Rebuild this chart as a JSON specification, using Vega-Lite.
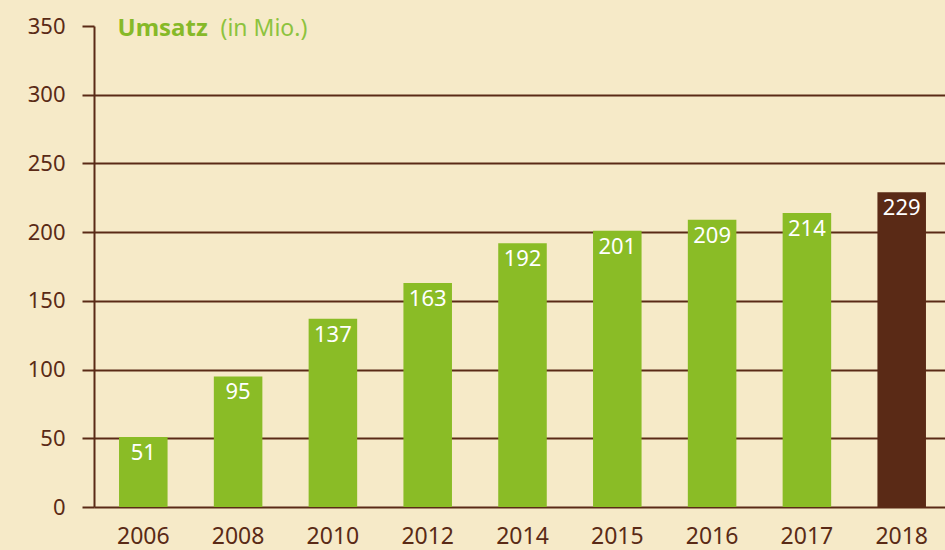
{
  "$schema": "https://vega.github.io/schema/vega-lite/v6.json",
  "autosize": "none",
  "width": 857,
  "height": 481,
  "padding": {"left": 94, "top": 26, "right": 0, "bottom": 43},
  "background": "#f6eac8",
  "config": {"view": {"stroke": null}, "font": "Noto Sans"},
  "data": {"values": [
    {"year": "2006", "umsatz": 51},
    {"year": "2008", "umsatz": 95},
    {"year": "2010", "umsatz": 137},
    {"year": "2012", "umsatz": 163},
    {"year": "2014", "umsatz": 192},
    {"year": "2015", "umsatz": 201},
    {"year": "2016", "umsatz": 209},
    {"year": "2017", "umsatz": 214},
    {"year": "2018", "umsatz": 229}
  ]},
  "encoding": {
    "x": {"field": "year", "type": "nominal", "sort": null,
      "scale": {"paddingInner": 0.488, "paddingOuter": 0.264},
      "axis": {"title": null, "labelAngle": 0, "ticks": false, "domainColor": "#5a2a16", "domainWidth": 2,
        "labelColor": "#5a2a16", "labelFontSize": 23, "labelPadding": 18, "labelFont": "Noto Sans"}},
    "y": {"field": "umsatz", "type": "quantitative", "scale": {"domain": [0, 350]}}
  },
  "layer": [
    {
      "mark": {"type": "bar"},
      "encoding": {
        "y": {"field": "umsatz", "type": "quantitative", "scale": {"domain": [0, 350]},
          "axis": {"orient": "left", "values": [0, 50, 100, 150, 200, 250, 300, 350], "grid": false,
            "domainColor": "#5a2a16", "domainWidth": 2, "tickColor": "#5a2a16", "tickWidth": 2, "tickSize": 12,
            "labelColor": "#5a2a16", "labelFontSize": 22, "labelPadding": 17,
            "title": "Umsatz", "titleAngle": 0, "titleAlign": "left", "titleBaseline": "alphabetic",
            "titleX": 23, "titleY": 9, "titleColor": "#86b928", "titleFontSize": 24, "titleFontWeight": "bold"}},
        "color": {"condition": {"test": "datum.year === '2018'", "value": "#5a2a16"}, "value": "#8abc26"}
      }
    },
    {
      "mark": {"type": "text", "baseline": "top", "dy": 6, "color": "white", "fontSize": 22},
      "encoding": {
        "y": {"field": "umsatz", "type": "quantitative", "scale": {"domain": [0, 350]},
          "axis": {"orient": "left", "values": [50, 100, 150, 200, 250, 300], "grid": true,
            "gridColor": "#5a2a16", "gridWidth": 2, "gridOpacity": 1, "domain": false, "ticks": false, "labels": false,
            "title": "(in Mio.)", "titleAngle": 0, "titleAlign": "left", "titleBaseline": "alphabetic",
            "titleX": 126, "titleY": 9, "titleColor": "#8dc33e", "titleFontSize": 23, "titleFontWeight": "normal"}},
        "text": {"field": "umsatz", "type": "quantitative"}
      }
    }
  ],
  "resolve": {"axis": {"y": "independent"}}
}
